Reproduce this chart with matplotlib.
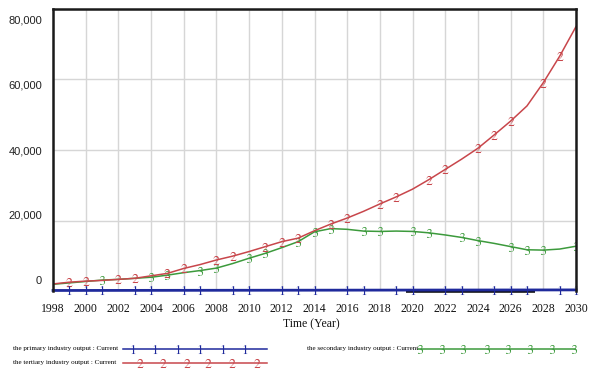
import numpy as np
import matplotlib
matplotlib.use("Agg")
import matplotlib.pyplot as plt
from matplotlib.lines import Line2D
from matplotlib.transforms import ScaledTranslation

plt.rcParams["mathtext.fontset"] = "stix"

# ---- data -------------------------------------------------------------
years = list(range(1998, 2031))

primary_output = [150, 155, 160, 165, 170, 175, 180, 185, 190, 195, 200, 205,
                  210, 215, 220, 225, 230, 235, 240, 245, 250, 255, 260, 265,
                  270, 275, 280, 285, 290, 295, 300, 305, 310]

tertiary_output = [2000, 2500, 2800, 3000, 3300, 3600, 4300, 5000, 6400, 7500,
                   8800, 9900, 11200, 12600, 14000, 15000, 17100, 19000, 20700,
                   22600, 24700, 26700, 28900, 31600, 34500, 37400, 40500,
                   44300, 48200, 52500, 59100, 66600, 75000]

secondary_output = [1900, 2300, 2700, 3100, 3300, 3600, 3900, 4500, 5200, 5800,
                    6500, 7800, 9300, 10700, 12300, 14000, 16800, 17700, 17500,
                    17000, 16900, 17000, 16900, 16500, 15900, 15200, 14300,
                    13500, 12600, 11700, 11600, 11900, 12700]

x_ticks = list(range(1998, 2031, 2))
y_ticks = [0, 20000, 40000, 60000, 80000]
y_tick_labels = ["0", "20,000", "40,000", "60,000", "80,000"]

legend_labels = ["the primary industry output : Current",
                 "the tertiary industry output : Current",
                 "the secondary industry output : Current"]

# years on which each curve carries its number glyph
primary_mark_years = [1999, 2000, 2001, 2003, 2004, 2006, 2007, 2009, 2010,
                      2012, 2013, 2014, 2016, 2017, 2019, 2020, 2022, 2023,
                      2025, 2026, 2027, 2029, 2030]
tertiary_mark_years = [1999, 2000, 2002, 2003, 2005, 2006, 2008, 2009, 2011,
                       2012, 2013, 2015, 2016, 2018, 2019, 2021, 2022, 2024,
                       2025, 2026, 2028, 2029]
secondary_mark_years = [2001, 2004, 2005, 2007, 2008, 2010, 2011, 2013, 2014,
                        2015, 2017, 2018, 2020, 2021, 2023, 2024, 2026, 2027,
                        2028, 2030]

# stretch of the time axis drawn with a dark overlay on the baseline
overlay_span_years = [2019.6, 2027.5]

# ---- styling ----------------------------------------------------------
BLUE = "#1f2a9c"
RED = "#c8464b"
GREEN = "#3c9a3c"
GRID = "#d6d6d6"
SERIF = ["Liberation Serif", "DejaVu Serif"]
MS = 6.5

W, H = 590, 376
fig = plt.figure(figsize=(W / 100, H / 100), dpi=100)
ax = fig.add_axes([53 / W, 1 - 291 / H, (576 - 53) / W, (291 - 9) / H])

ax.set_xlim(1998, 2030)
ax.set_ylim(0, 80000)
ax.set_xticks(x_ticks)
ax.set_xticklabels([str(t) for t in x_ticks], fontfamily=SERIF, fontsize=8.5,
                   color="#111111")
ax.set_yticks(y_ticks)
ax.set_yticklabels(y_tick_labels, fontfamily=["Liberation Sans", "DejaVu Sans"],
                   fontsize=8, color="#222222")
ax.tick_params(axis="both", length=0)
ax.tick_params(axis="x", pad=9)
ax.tick_params(axis="y", pad=8)

# value labels sit evenly between the frame edges, slightly inside the grid
label_shift_px = [11, 5.5, 0, -5, -10.5]
for lab, dy in zip(ax.get_yticklabels(), label_shift_px):
    lab.set_transform(lab.get_transform() +
                      ScaledTranslation(0, dy / 100, fig.dpi_scale_trans))

ax.grid(True, color=GRID, linewidth=1.0)
ax.set_axisbelow(True)

for side in ("left", "top", "right"):
    ax.spines[side].set_color("#1a1a1a")
    ax.spines[side].set_linewidth(1.8)
ax.spines["bottom"].set_visible(False)


def mark_indices(mark_years):
    return [years.index(y) for y in mark_years]


ax.plot(years, secondary_output, color=GREEN, lw=1.1, marker="$3$",
        markersize=MS, markeredgewidth=0, markevery=mark_indices(secondary_mark_years))
ax.plot(years, tertiary_output, color=RED, lw=1.1, marker="$2$",
        markersize=MS, markeredgewidth=0, markevery=mark_indices(tertiary_mark_years))
ax.plot(overlay_span_years, [0, 0], color="#111111", lw=2.6, clip_on=False,
        solid_capstyle="butt")
ax.plot(years, primary_output, color=BLUE, lw=2.0, marker="$1$",
        markersize=MS, markeredgewidth=0, markevery=mark_indices(primary_mark_years),
        clip_on=False)

fig.text(311 / W, 1 - 324 / H, "Time (Year)", ha="center", va="center",
         fontfamily=SERIF, fontsize=8.5, color="#111111")


# ---- legend -----------------------------------------------------------
def legend_row(text, text_x, y, x0, x1, marks, color, glyph):
    fy = 1 - y / H
    fig.text(text_x / W, fy, text, ha="left", va="center",
             fontfamily=SERIF, fontsize=5.1, color="#000000")
    fig.add_artist(Line2D([x0 / W, x1 / W], [fy, fy], color=color, lw=1.1,
                          transform=fig.transFigure))
    fig.add_artist(Line2D([m / W for m in marks], [fy] * len(marks),
                          color=color, lw=0, marker=glyph, markersize=MS,
                          markeredgewidth=0, transform=fig.transFigure))


legend_row(legend_labels[0], 13, 348.5, 123, 267,
           [133, 155, 178, 200, 223, 245], BLUE, "$1$")
legend_row(legend_labels[1], 13, 362.5, 123, 267,
           [140, 163, 187, 208, 232, 257], RED, "$2$")
legend_row(legend_labels[2], 307, 348.5, 418, 575,
           [420, 442, 463, 487, 508, 530, 552, 574], GREEN, "$3$")

fig.savefig("out.png", dpi=100)
